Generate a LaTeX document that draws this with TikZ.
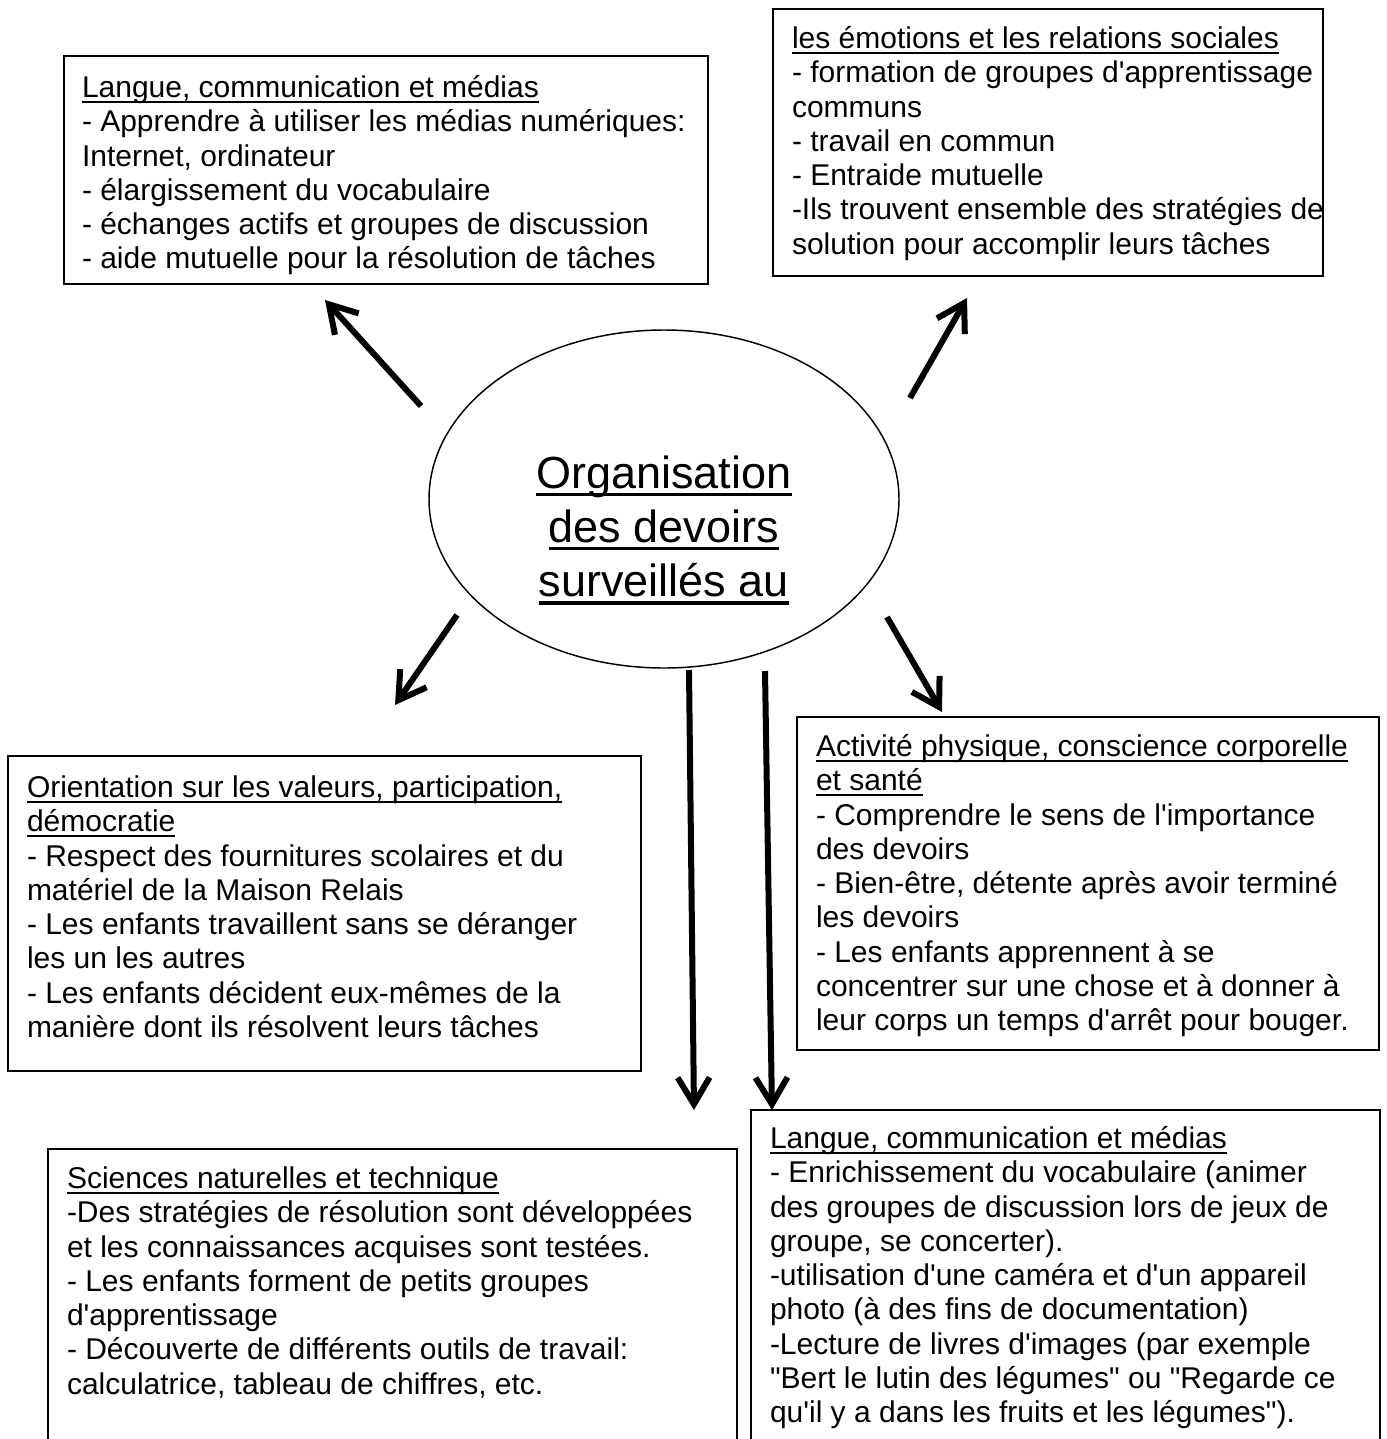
\documentclass[tikz,border=0pt]{standalone}
\usepackage{fontspec}
\setmainfont{Liberation Sans}[Ligatures=TeXOff]
\usetikzlibrary{arrows.meta,shapes.geometric}
\newlength\ulw
\newcommand\myul[1]{\leavevmode\settowidth\ulw{#1}\rlap{\rule[-0.18em]{\ulw}{0.075em}}#1}
\newcommand\boxtext[1]{\parbox[t]{20cm}{\raggedright\fontsize{22.5pt}{25.7pt}\selectfont #1}}
\newcommand\pxu{0.75pt}
\tikzset{
  rbox/.style 2 args={draw, line width=1.3pt, rectangle, inner sep=0pt, outer sep=0pt, anchor=north west,
    minimum width=#1*\pxu, minimum height=#2*\pxu},
  btext/.style={anchor=base west, inner sep=0pt, outer sep=0pt},
  arr/.style={line width=4.5pt, -{Straight Barb[length=20pt,width=24pt]}},
}
\begin{document}
\begin{tikzpicture}[x=0.75pt,y=-0.75pt]
\useasboundingbox (0,0) rectangle (1387,1439);
\clip (0,0) rectangle (1387,1439);
\fill[white] (0,0) rectangle (1387,1439);

% boxes
\node[rbox={644}{228}] (b1) at (64,56) {};
\node[rbox={550}{267}] (b2) at (773,9) {};
\node[rbox={633}{315}] (b3) at (8,756) {};
\node[rbox={582}{333}] (b4) at (797,717) {};
\node[rbox={689}{330}] (b5) at (48,1149) {};
\node[rbox={629}{370}] (b6) at (751,1110) {};

% ellipse
\node[draw, ellipse, line width=1.1pt, inner sep=0pt, minimum width=470*\pxu, minimum height=338*\pxu] (e) at (664,499) {};
\node[anchor=base, inner sep=0pt] (etitle) at (664,488) {\parbox[t]{12cm}{\centering\fontsize{33.75pt}{40.7pt}\selectfont
\myul{Organisation}\\ \myul{des devoirs}\\ \myul{surveillés au}}};

% texts
\node[btext] (t1) at ([shift={(18,41.5)}]b1.north west) {\boxtext{%
\myul{Langue, communication et médias}\\
- Apprendre à utiliser les médias numériques:\\
Internet, ordinateur\\
- élargissement du vocabulaire\\
- échanges actifs et groupes de discussion\\
- aide mutuelle pour la résolution de tâches}};

\node[btext] (t2) at ([shift={(19,39.5)}]b2.north west) {\boxtext{%
\myul{les émotions et les relations sociales}\\
- formation de groupes d'apprentissage\\
communs\\
- travail en commun\\
- Entraide mutuelle\\
-Ils trouvent ensemble des stratégies de\\
solution pour accomplir leurs tâches}};

\node[btext] (t3) at ([shift={(19,41.5)}]b3.north west) {\boxtext{%
\myul{Orientation sur les valeurs, participation,}\\
\myul{démocratie}\\
- Respect des fournitures scolaires et du\\
matériel de la Maison Relais\\
- Les enfants travaillent sans se déranger\\
les un les autres\\
- Les enfants décident eux-mêmes de la\\
manière dont ils résolvent leurs tâches}};

\node[btext] (t4) at ([shift={(19,39.5)}]b4.north west) {\boxtext{%
\myul{Activité physique, conscience corporelle}\\
\myul{et santé}\\
- Comprendre le sens de l'importance\\
des devoirs\\
- Bien-être, détente après avoir terminé\\
les devoirs\\
- Les enfants apprennent à se\\
concentrer sur une chose et à donner à\\
leur corps un temps d'arrêt pour bouger.}};

\node[btext] (t5) at ([shift={(19,39.5)}]b5.north west) {\boxtext{%
\myul{Sciences naturelles et technique}\\
-Des stratégies de résolution sont développées\\
et les connaissances acquises sont testées.\\
- Les enfants forment de petits groupes\\
d'apprentissage\\
- Découverte de différents outils de travail:\\
calculatrice, tableau de chiffres, etc.}};

\node[btext] (t6) at ([shift={(19,38.5)}]b6.north west) {\boxtext{%
\myul{Langue, communication et médias}\\
- Enrichissement du vocabulaire (animer\\
des groupes de discussion lors de jeux de\\
groupe, se concerter).\\
-utilisation d'une caméra et d'un appareil\\
photo (à des fins de documentation)\\
-Lecture de livres d'images (par exemple\\
"Bert le lutin des légumes" ou "Regarde ce\\
qu'il y a dans les fruits et les légumes").}};

% arrow end points
\coordinate (s1) at (421,406); \coordinate (e1) at (325,300);
\coordinate (s2) at (910,398); \coordinate (e2) at (967,298);
\coordinate (s3) at (457,615); \coordinate (e3) at (395,705);
\coordinate (s4) at (887,617); \coordinate (e4) at (942,712);
\coordinate (s5) at (689,670); \coordinate (e5) at (694,1110);
\coordinate (s6) at (765,671); \coordinate (e6) at (772,1110);
\foreach \i in {1,...,6} { \draw[arr] (s\i) -- (e\i); }
\end{tikzpicture}
\end{document}
